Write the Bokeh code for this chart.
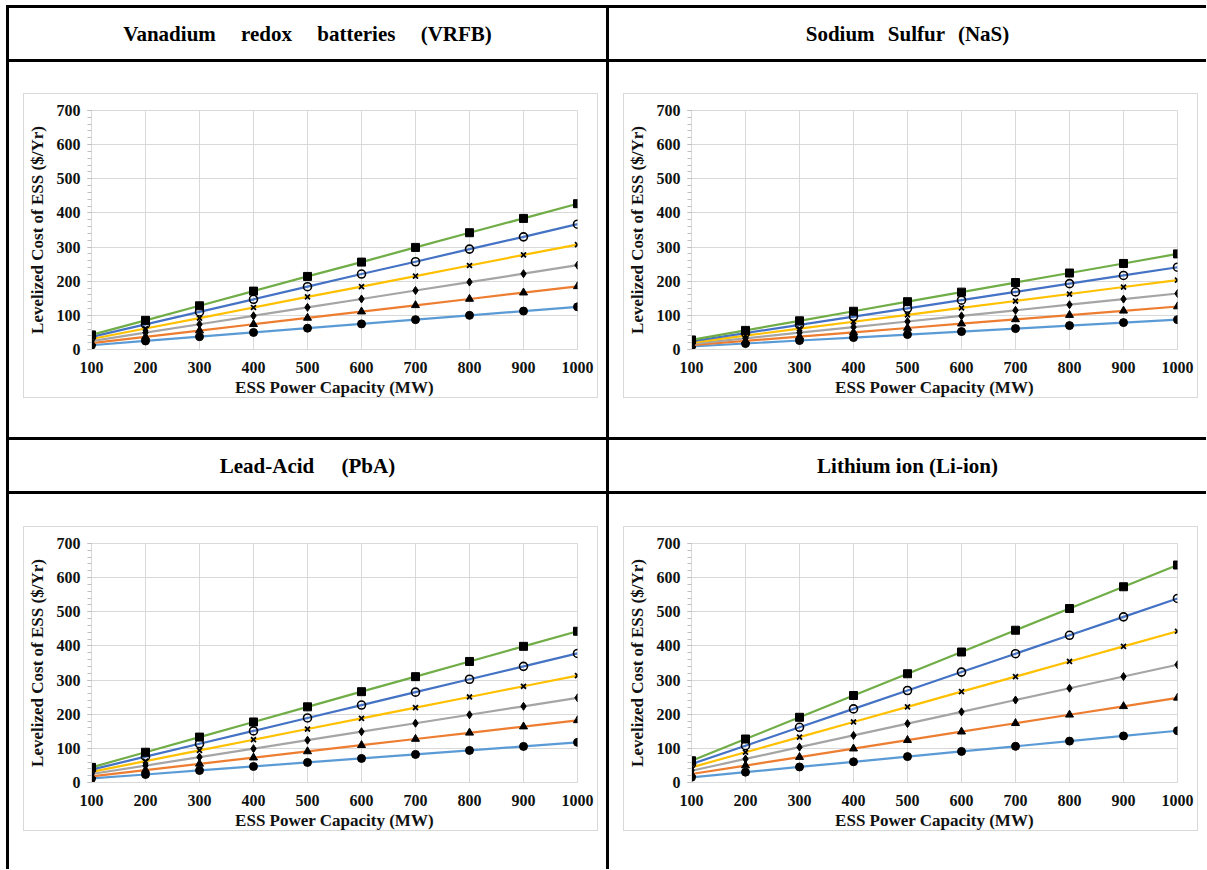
from bokeh.plotting import figure
from bokeh.layouts import row, column
from bokeh.models import Spacer, Div, Range1d, FixedTicker
from bokeh.embed import file_html
from bokeh.resources import INLINE

# ---------------- data ----------------
capacity_mw = [100, 200, 300, 400, 500, 600, 700, 800, 900, 1000]
y_tick_values = [0, 100, 200, 300, 400, 500, 600, 700]

vrfb_s1 = [12.5, 25, 37.5, 50, 62.5, 75, 87.5, 100, 112.5, 125]
vrfb_s2 = [18.5, 37, 55.5, 74, 92.5, 111, 129.5, 148, 166.5, 185]
vrfb_s3 = [24.7, 49.4, 74, 98.7, 123.4, 148, 172.8, 197.5, 222, 247]
vrfb_s4 = [30.8, 61.5, 92, 123, 154, 184, 215, 246, 277, 307]
vrfb_s5 = [36.8, 73.5, 110, 147, 184, 221, 257, 294, 330, 367]
vrfb_s6 = [42.7, 85.4, 128, 171, 214, 256, 299, 342, 384, 427]

nas_s1 = [8.8, 17.5, 26.3, 35, 43.8, 52.5, 61.3, 70, 78.8, 87.5]
nas_s2 = [12.6, 25.2, 37.8, 50.4, 63, 75.6, 88.2, 100.8, 113.4, 126]
nas_s3 = [16.4, 32.8, 49.2, 65.6, 82, 98.4, 114.8, 131.2, 147.6, 164]
nas_s4 = [20.3, 40.6, 61, 81.3, 101.6, 122, 142, 162.5, 183, 203]
nas_s5 = [24.1, 48.2, 72.3, 96.4, 120.5, 144.6, 168.7, 192.8, 216.9, 241]
nas_s6 = [28, 56, 84, 112, 140, 168, 196, 224, 252, 280]

pba_s1 = [11.8, 23.5, 35.3, 47, 58.8, 70.5, 82.3, 94, 105.8, 117.6]
pba_s2 = [18.2, 36.4, 54.6, 72.8, 91, 109.2, 127.4, 145.6, 163.8, 182]
pba_s3 = [24.8, 49.6, 74.4, 99.2, 124, 148.8, 173.6, 198.4, 223.2, 248]
pba_s4 = [31.3, 62.6, 94, 125.3, 156.6, 188, 219.2, 250.5, 281.8, 313]
pba_s5 = [37.8, 75.6, 113.4, 151.2, 189, 226.8, 264.6, 302.4, 340.2, 378]
pba_s6 = [44.3, 88.6, 133, 177.3, 221.6, 266, 310, 354.5, 398.8, 443]

liion_s1 = [15.2, 30.3, 45.5, 60.6, 75.8, 91, 106, 121.2, 136.4, 151.5]
liion_s2 = [24.8, 49.6, 74.4, 99.2, 124, 148.8, 173.6, 198.4, 223.2, 248]
liion_s3 = [34.5, 69, 103.5, 138, 172.5, 207, 241.5, 276, 310.5, 345]
liion_s4 = [44.3, 88.6, 133, 177.3, 221.6, 266, 310, 354.5, 398.8, 443]
liion_s5 = [53.9, 107.8, 161.7, 215.6, 269.5, 323.4, 377.3, 431.2, 485.1, 539]
liion_s6 = [63.7, 127.4, 191, 254.8, 318.5, 382.2, 446, 509.6, 573.3, 637]

panel_titles = ["Vanadium redox batteries (VRFB)", "Sodium Sulfur (NaS)",
                "Lead-Acid (PbA)", "Lithium ion (Li-ion)"]
x_axis_title = "ESS Power Capacity (MW)"
y_axis_title = "Levelized Cost of ESS ($/Yr)"

# ---------------- styling ----------------
LINE_COLORS = ["#5B9BD5", "#ED7D31", "#A5A5A5", "#FFC000", "#4472C4", "#70AD47"]
MARKERS = ["circle", "triangle", "diamond", "x", "circle", "square"]
MSIZE = [8, 8, 8, 7, 8, 8]
FONT = "Liberation Serif"
GRID = "#d9d9d9"

FIG_W, FIG_H = 575, 305


def make_chart(series):
    p = figure(width=FIG_W, height=FIG_H, x_range=Range1d(100, 1000), y_range=Range1d(0, 700),
               output_backend="svg", toolbar_location=None,
               min_border_left=67, min_border_right=22, min_border_top=16, min_border_bottom=46,
               styles={"border": "1px solid #d9d9d9"}, margin=0)
    p.background_fill_color = "white"
    p.border_fill_color = "white"
    p.outline_line_color = GRID
    p.xaxis.ticker = FixedTicker(ticks=capacity_mw)
    p.yaxis.ticker = FixedTicker(ticks=y_tick_values, minor_ticks=list(range(0, 701, 20)))
    p.xgrid.grid_line_color = GRID
    p.ygrid.grid_line_color = GRID
    p.xgrid.grid_line_width = 1
    p.ygrid.grid_line_width = 1
    for ax in (p.xaxis[0], p.yaxis[0]):
        ax.major_label_text_font = FONT
        ax.major_label_text_font_style = "bold"
        ax.major_label_text_font_size = "16px"
        ax.major_label_text_color = "#111111"
        ax.axis_label_text_font = FONT
        ax.axis_label_text_font_style = "bold"
        ax.axis_label_text_font_size = "17px"
        ax.axis_label_text_color = "#111111"
        ax.axis_line_color = GRID
    p.xaxis.axis_label = x_axis_title
    p.yaxis.axis_label = y_axis_title
    p.xaxis.major_tick_line_color = None
    p.xaxis.minor_tick_line_color = None
    p.xaxis.major_label_standoff = 6
    p.xaxis.axis_label_standoff = 2
    p.yaxis.major_tick_line_color = "#bfbfbf"
    p.yaxis.minor_tick_line_color = "#bfbfbf"
    p.yaxis.major_tick_out = 4
    p.yaxis.major_tick_in = 0
    p.yaxis.minor_tick_out = 4
    p.yaxis.minor_tick_in = 0
    p.yaxis.major_label_standoff = 7
    p.yaxis.axis_label_standoff = 7

    for i, vals in enumerate(series):
        p.line(capacity_mw, vals, line_color=LINE_COLORS[i], line_width=2.2)
        if i == 4:
            p.scatter(capacity_mw, vals, marker="circle", size=MSIZE[i], fill_alpha=0,
                      line_color="black", line_width=1.6)
        elif MARKERS[i] == "x":
            p.scatter(capacity_mw, vals, marker="x", size=MSIZE[i], line_color="black", line_width=1.8)
        else:
            p.scatter(capacity_mw, vals, marker=MARKERS[i], size=MSIZE[i],
                      fill_color="black", line_color="black")
    return p


def bar(w, h):
    return Spacer(width=w, height=h, margin=0, styles={"background-color": "black"})


def gap(w, h):
    return Spacer(width=w, height=h, margin=0)


def header(text, w, h, ws):
    html = ("<div style=\"width:%dpx;height:%dpx;display:flex;align-items:center;"
            "justify-content:center;font-family:'Liberation Serif';font-weight:bold;"
            "font-size:21px;word-spacing:%dpx;color:#000;white-space:nowrap;\">%s</div>"
            % (w, h, ws, text))
    return Div(text=html, width=w, height=h, margin=0)


def cell(fig, w, h, dx, dy):
    pw, ph = FIG_W + 2, FIG_H + 2
    return column(gap(w, dy),
                  row(gap(dx, ph), fig, gap(w - dx - pw, ph), spacing=0),
                  gap(w, h - dy - ph), spacing=0)


LW, RW = 597, 597
H1, C1, H2, C2 = 51, 375, 51, 375

vrfb = make_chart([vrfb_s1, vrfb_s2, vrfb_s3, vrfb_s4, vrfb_s5, vrfb_s6])
nas = make_chart([nas_s1, nas_s2, nas_s3, nas_s4, nas_s5, nas_s6])
pba = make_chart([pba_s1, pba_s2, pba_s3, pba_s4, pba_s5, pba_s6])
liion = make_chart([liion_s1, liion_s2, liion_s3, liion_s4, liion_s5, liion_s6])


def hline():
    return row(gap(6, 3), bar(3 + LW + 3 + RW, 3), spacing=0)


layout = column(
    gap(1200, 5),
    hline(),
    row(gap(6, H1), bar(3, H1), header(panel_titles[0], LW, H1, 20), bar(3, H1),
        header(panel_titles[1], RW, H1, 8), spacing=0),
    hline(),
    row(gap(6, C1), bar(3, C1), cell(vrfb, LW, C1, 14, 31), bar(3, C1),
        cell(nas, RW, C1, 14, 31), spacing=0),
    hline(),
    row(gap(6, H2), bar(3, H2), header(panel_titles[2], LW, H2, 22), bar(3, H2),
        header(panel_titles[3], RW, H2, 0), spacing=0),
    hline(),
    row(gap(6, C2), bar(3, C2), cell(pba, LW, C2, 14, 32), bar(3, C2),
        cell(liion, RW, C2, 14, 32), spacing=0),
    spacing=0,
)

open("out.html", "w").write(file_html(layout, INLINE))
